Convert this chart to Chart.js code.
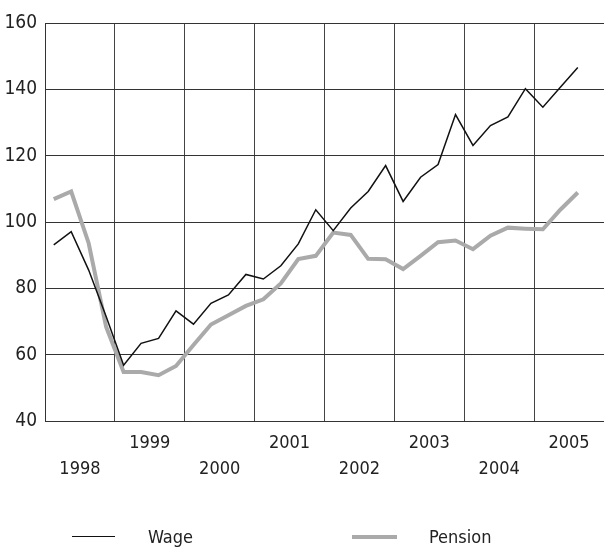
<!DOCTYPE html>
<html>
<head>
<meta charset="utf-8">
<script src="https://cdn.jsdelivr.net/npm/chart.js@4/dist/chart.umd.min.js"></script>
<style>
  html, body { margin: 0; padding: 0; background: #fff; }
  #wrap { position: relative; width: 604px; height: 547px; overflow: hidden; }
  #c { position: absolute; left: 0; top: 0; }
  .lg { position: absolute; font-family: 'Liberation Sans Narrow', 'Arial Narrow', 'DejaVu Sans Condensed', sans-serif; font-size: 18px; color: #222; line-height: 20px; }
  .sw { position: absolute; }
</style>
</head>
<body>
<div id="wrap">
  <canvas id="c" width="604" height="547"></canvas>
  <div class="sw" style="left:72px; top:536px; width:43px; height:0; border-top:1.5px solid #111;"></div>
  <div class="lg" style="left:148px; top:527px;">Wage</div>
  <div class="sw" style="left:352px; top:535px; width:45px; height:4px; background:#aaaaaa;"></div>
  <div class="lg" style="left:429px; top:527px;">Pension</div>
</div>
<script>
const years = ["1998","1999","2000","2001","2002","2003","2004","2005"];
const quarters = [
  "1998Q1","1998Q2","1998Q3","1998Q4","1999Q1","1999Q2","1999Q3","1999Q4",
  "2000Q1","2000Q2","2000Q3","2000Q4","2001Q1","2001Q2","2001Q3","2001Q4",
  "2002Q1","2002Q2","2002Q3","2002Q4","2003Q1","2003Q2","2003Q3","2003Q4",
  "2004Q1","2004Q2","2004Q3","2004Q4","2005Q1","2005Q2","2005Q3"
];
const wage = [
  93.1, 97.1, 85.5, 71.5, 56.8, 63.4, 64.9, 73.2,
  69.2, 75.5, 78.0, 84.2, 82.8, 86.8, 93.4, 103.7,
  97.4, 104.2, 109.2, 117.0, 106.2, 113.5, 117.3, 132.4,
  123.1, 129.1, 131.7, 140.2, 134.6, 140.6, 146.6
];
const pension = [
  106.9, 109.2, 93.6, 68.4, 54.8, 54.8, 53.8, 56.6,
  62.9, 69.1, 71.9, 74.7, 76.7, 81.5, 88.8, 89.8,
  96.8, 96.1, 88.9, 88.8, 85.8, 89.8, 93.9, 94.4,
  91.8, 95.9, 98.3, 98.0, 97.8, 103.7, 108.9
];
const yTicks = [40, 60, 80, 100, 120, 140, 160];

const toPts = arr => arr.map((v, i) => ({ x: i + 0.5, y: v }));
const FONT = "'Liberation Sans Narrow', 'Arial Narrow', 'DejaVu Sans Condensed', sans-serif";

new Chart(document.getElementById('c'), {
  type: 'line',
  data: {
    datasets: [
      { label: 'Wage', data: toPts(wage), borderColor: '#111111', borderWidth: 1.5, pointRadius: 0, tension: 0, order: 1 },
      { label: 'Pension', data: toPts(pension), borderColor: '#aaaaaa', borderWidth: 4, pointRadius: 0, tension: 0, order: 2, borderJoinStyle: 'miter' }
    ]
  },
  options: {
    responsive: false,
    animation: false,
    layout: { padding: { left: 0, right: 0, top: 23, bottom: 0 } },
    plugins: { legend: { display: false }, tooltip: { enabled: false } },
    scales: {
      x: {
        type: 'linear',
        min: 0, max: 32,
        afterBuildTicks: s => { s.ticks = Array.from({ length: 17 }, (_, i) => ({ value: i * 2 })); },
        afterFit: s => { s.height = 126; s.paddingRight = 0; s.paddingLeft = 0; },
        border: { display: true, color: '#333', width: 1 },
        grid: {
          drawTicks: false,
          color: ctx => {
            const v = ctx.tick ? ctx.tick.value : 0;
            return (v % 4 === 0 && v > 0 && v < 32) ? '#444' : 'rgba(0,0,0,0)';
          },
          lineWidth: 1
        },
        ticks: {
          autoSkip: false,
          maxRotation: 0,
          padding: 9,
          color: '#222',
          font: { family: FONT, size: 18, lineHeight: 1.44 },
          callback: v => {
            if (v % 4 !== 2) return '';
            const idx = (v - 2) / 4;
            const y = years[idx];
            return idx % 2 === 1 ? [y, ''] : ['', y];
          }
        }
      },
      y: {
        min: 40, max: 160,
        afterBuildTicks: s => { s.ticks = yTicks.map(v => ({ value: v })); },
        afterFit: s => { s.width = 45; },
        border: { display: true, color: '#333', width: 1 },
        grid: { drawTicks: false, color: '#333', lineWidth: 1 },
        ticks: { padding: 8, color: '#222', font: { family: FONT, size: 19 } }
      }
    }
  }
});
</script>
</body>
</html>
